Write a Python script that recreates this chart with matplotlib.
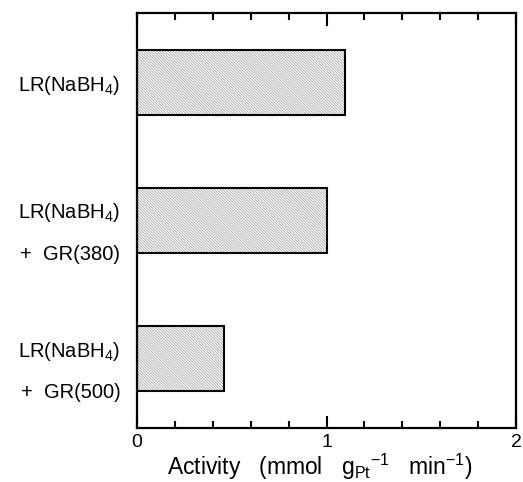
import matplotlib

matplotlib.use("Agg")
import matplotlib.pyplot as plt  # noqa: E402
from matplotlib.ticker import MultipleLocator  # noqa: E402

categories = ["LR(NaBH$_4$)", "LR(NaBH$_4$)\n+  GR(380)", "LR(NaBH$_4$)\n+  GR(500)"]
activity = [1.1, 1.0, 0.46]

plt.rcParams["font.family"] = ["Liberation Sans", "DejaVu Sans"]
plt.rcParams["mathtext.default"] = "regular"
plt.rcParams["hatch.linewidth"] = 0.5

fig = plt.figure(figsize=(5.23, 4.82), dpi=100)
ax = fig.add_axes([137 / 523, 1 - 428 / 482, (516 - 137) / 523, (428 - 13) / 482])

pos = list(range(len(categories)))
ax.barh(pos, activity, height=0.47, color="white", edgecolor="#999999",
        hatch="\\" * 12, linewidth=0)
ax.barh(pos, activity, height=0.47, fill=False, edgecolor="black", linewidth=1.5)

ax.set_xlim(0, 2)
ax.set_ylim(2.5, -0.5)
ax.set_yticks(pos)
ax.set_yticklabels(categories, fontsize=14.5, linespacing=2.35, multialignment="right")
ax.tick_params(axis="y", length=0, pad=12)

ax.xaxis.set_major_locator(MultipleLocator(1))
ax.xaxis.set_minor_locator(MultipleLocator(0.2))
ax.tick_params(axis="x", which="both", direction="in", top=True, width=1.5, labelsize=14)
ax.tick_params(axis="x", which="major", length=9, pad=4)
ax.tick_params(axis="x", which="minor", length=5)
for s in ax.spines.values():
    s.set_linewidth(1.6)

fig.text(320 / 523, 1 - 467 / 482, "Activity   (mmol   g$_{Pt}$$^{-1}$   min$^{-1}$)",
         fontsize=16.5, ha="center", va="center")

fig.savefig("out.png", dpi=100)
